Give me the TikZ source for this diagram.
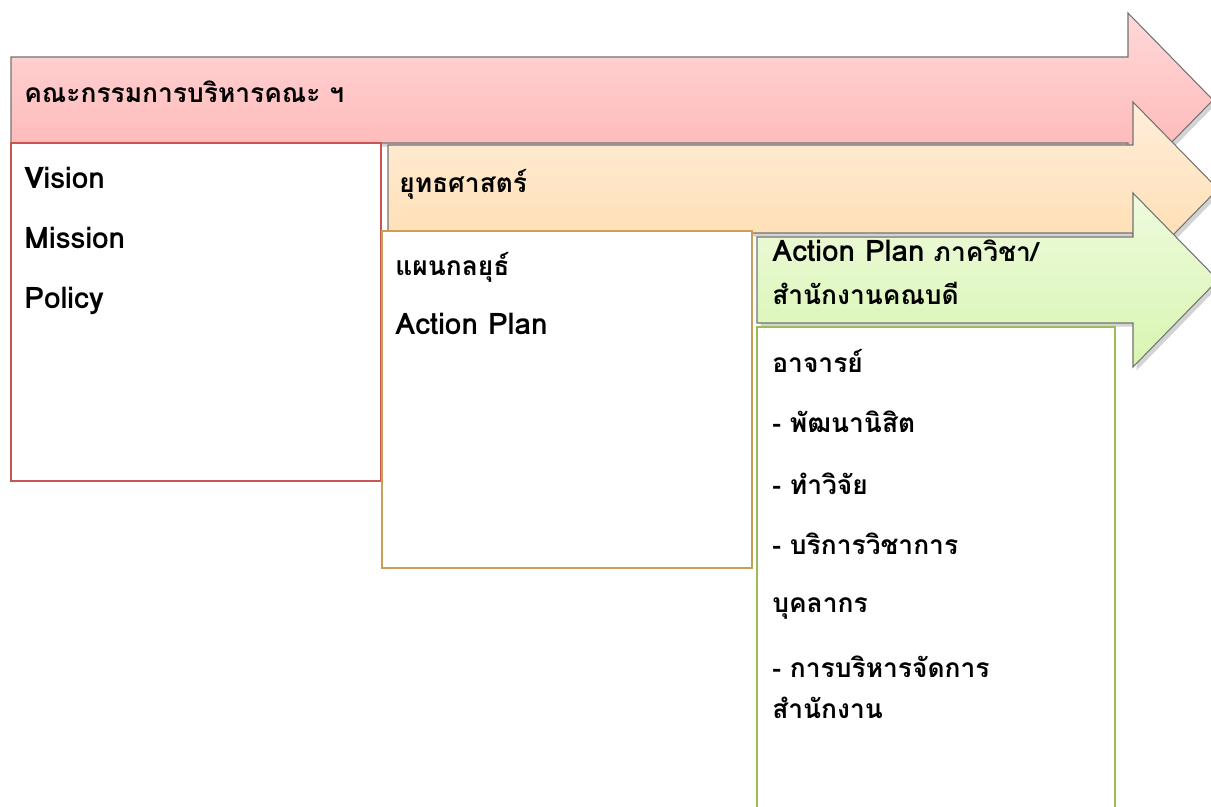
\documentclass[tikz,border=0pt]{standalone}
\usepackage{fontspec}
\setmainfont{Loma}[Script=Thai]
\newfontfamily\latinfont[Scale=1.13]{Loma}
\usetikzlibrary{shadows}

\definecolor{redtop}{RGB}{255,216,216}
\definecolor{redbot}{RGB}{255,178,178}
\definecolor{orangetop}{RGB}{255,238,218}
\definecolor{orangebot}{RGB}{255,220,172}
\definecolor{greentop}{RGB}{238,251,222}
\definecolor{greenbot}{RGB}{216,245,176}
\definecolor{redline}{RGB}{200,85,82}
\definecolor{orangeline}{RGB}{200,158,88}
\definecolor{greenline}{RGB}{155,187,89}

\tikzset{
  bigarrow/.style={draw=gray!90!black, line width=0.6pt, drop shadow={opacity=0.35, shadow xshift=2pt, shadow yshift=-2pt}},
  stagebox/.style={fill=white, line width=1.2pt},
  label/.style={anchor=base west, inner sep=0pt, font=\fontsize{15}{18}\selectfont\bfseries}
}

\begin{document}
\begin{tikzpicture}[x=0.02cm, y=-0.02cm]
        \useasboundingbox (0,0) rectangle (1211,807);
        % board level
        \path[bigarrow, top color=redtop, bottom color=redbot] (11,57) -- (1128,57) -- (1128,13) -- (1213,100)
        -- (1128,187) -- (1128,143) -- (11,143) -- cycle;
        \node[label] (board) at (24,103) {คณะกรรมการบริหารคณะ ฯ};
        \draw[stagebox, draw=redline] (11,143) rectangle (381,481);
        \node[label] (vision) at (24,189) {\latinfont Vision};
        \node[label] (mission) at (24,249) {\latinfont Mission};
        \node[label] (policy) at (24,309) {\latinfont Policy};
        % strategy level
        \path[bigarrow, top color=orangetop, bottom color=orangebot] (388,145) -- (1133,145) -- (1133,102) -- (1218,189)
        -- (1133,276) -- (1133,233) -- (388,233) -- cycle;
        \node[label] (strategy) at (399,193) {ยุทธศาสตร์};
        \draw[stagebox, draw=orangeline] (382,231) rectangle (752,568);
        \node[label] (stratplan) at (395,276) {แผนกลยุธ์};
        \node[label] (actionplan) at (395,335) {\latinfont Action Plan};
        % department level
        \path[bigarrow, top color=greentop, bottom color=greenbot] (757,237) -- (1133,237) -- (1133,193) -- (1218,280)
        -- (1133,367) -- (1133,323) -- (757,323) -- cycle;
        \node[label] (deptplan) at (772,262) {{\latinfont Action Plan} ภาควิชา/};
        \node[label] (deptoffice) at (772,305) {สำนักงานคณบดี};
        \draw[stagebox, draw=greenline] (757,327) -- (757,812) -- (1115,812) -- (1115,327) -- cycle;
        \node[label] (lecturer) at (772,373) {อาจารย์};
        \node[label] (students) at (772,433) {- พัฒนานิสิต};
        \node[label] (research) at (772,495) {- ทำวิจัย};
        \node[label] (service) at (772,555) {- บริการวิชาการ};
        \node[label] (staff) at (772,612) {บุคลากร};
        \node[label] (admin) at (772,677) {- การบริหารจัดการ};
        \node[label] (office) at (772,718) {สำนักงาน};
    \end{tikzpicture}
\end{document}
